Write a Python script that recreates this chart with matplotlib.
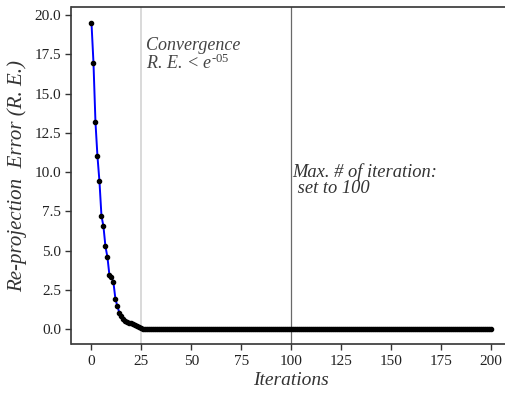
import matplotlib.pyplot as plt

plt.rcParams['font.family'] = ['Liberation Serif', 'DejaVu Serif']
plt.rcParams['mathtext.fontset'] = 'custom'
plt.rcParams['mathtext.rm'] = 'Liberation Serif'
plt.rcParams['mathtext.it'] = 'Liberation Serif:italic'

# Re-projection error per iteration
head_errors = [19.53, 16.98, 13.18, 11.01, 9.41, 7.22, 6.54, 5.26, 4.58, 3.42,
               3.30, 2.97, 1.91, 1.44, 1.02, 0.80, 0.64, 0.54, 0.47, 0.41,
               0.35, 0.29, 0.23, 0.17, 0.11, 0.04]
tail_errors = [0.0] * 175
errors = head_errors + tail_errors
iterations = list(range(len(errors)))

converge_iter = 25
max_iter = 100

fig = plt.figure(figsize=(5.06, 3.93), dpi=100)
ax = fig.add_axes([71.5 / 506, 48.7 / 393, (510.8 - 71.5) / 506, (385.7 - 48.7) / 393])

ax.plot(iterations, errors, color='blue', lw=1.4, marker='o', ms=3,
        mfc='black', mec='black', zorder=3)

ax.axvline(converge_iter, color='lightgray', lw=1.2, zorder=1)
ax.axvline(max_iter, color='dimgray', lw=0.9, zorder=1)

ax.text(27.4, 16.6, 'Convergence\nR. E. < $\\mathit{e}^{\\mathit{\u2010}\\mathit{05}}$',
        fontsize=13, style='italic', color='#444444', linespacing=0.95)
ax.text(100.7, 8.65, 'Max. # of iteration:\n set to 100', fontsize=13.3, style='italic',
        color='#333333', linespacing=0.95)

ax.set_xlim(-10, 210)
ax.set_xticks([0, 25, 50, 75, 100, 125, 150, 175, 200])
ax.set_yticks([0, 2.5, 5, 7.5, 10, 12.5, 15, 17.5, 20])
ax.set_yticklabels(['0.0', '2.5', '5.0', '7.5', '10.0', '12.5', '15.0', '17.5', '20.0'])
ax.tick_params(labelsize=11, color='#333333', length=4, width=1, labelcolor='#222222')
for sp in ax.spines.values():
    sp.set_color('#333333')
    sp.set_linewidth(1.2)

ax.set_xlabel('Iterations', fontsize=14, style='italic', color='#333333', labelpad=3)
ax.set_ylabel('Re-projection  Error (R. E.)', fontsize=15, style='italic', color='#333333', labelpad=5)

fig.savefig('out.png', dpi=100)
